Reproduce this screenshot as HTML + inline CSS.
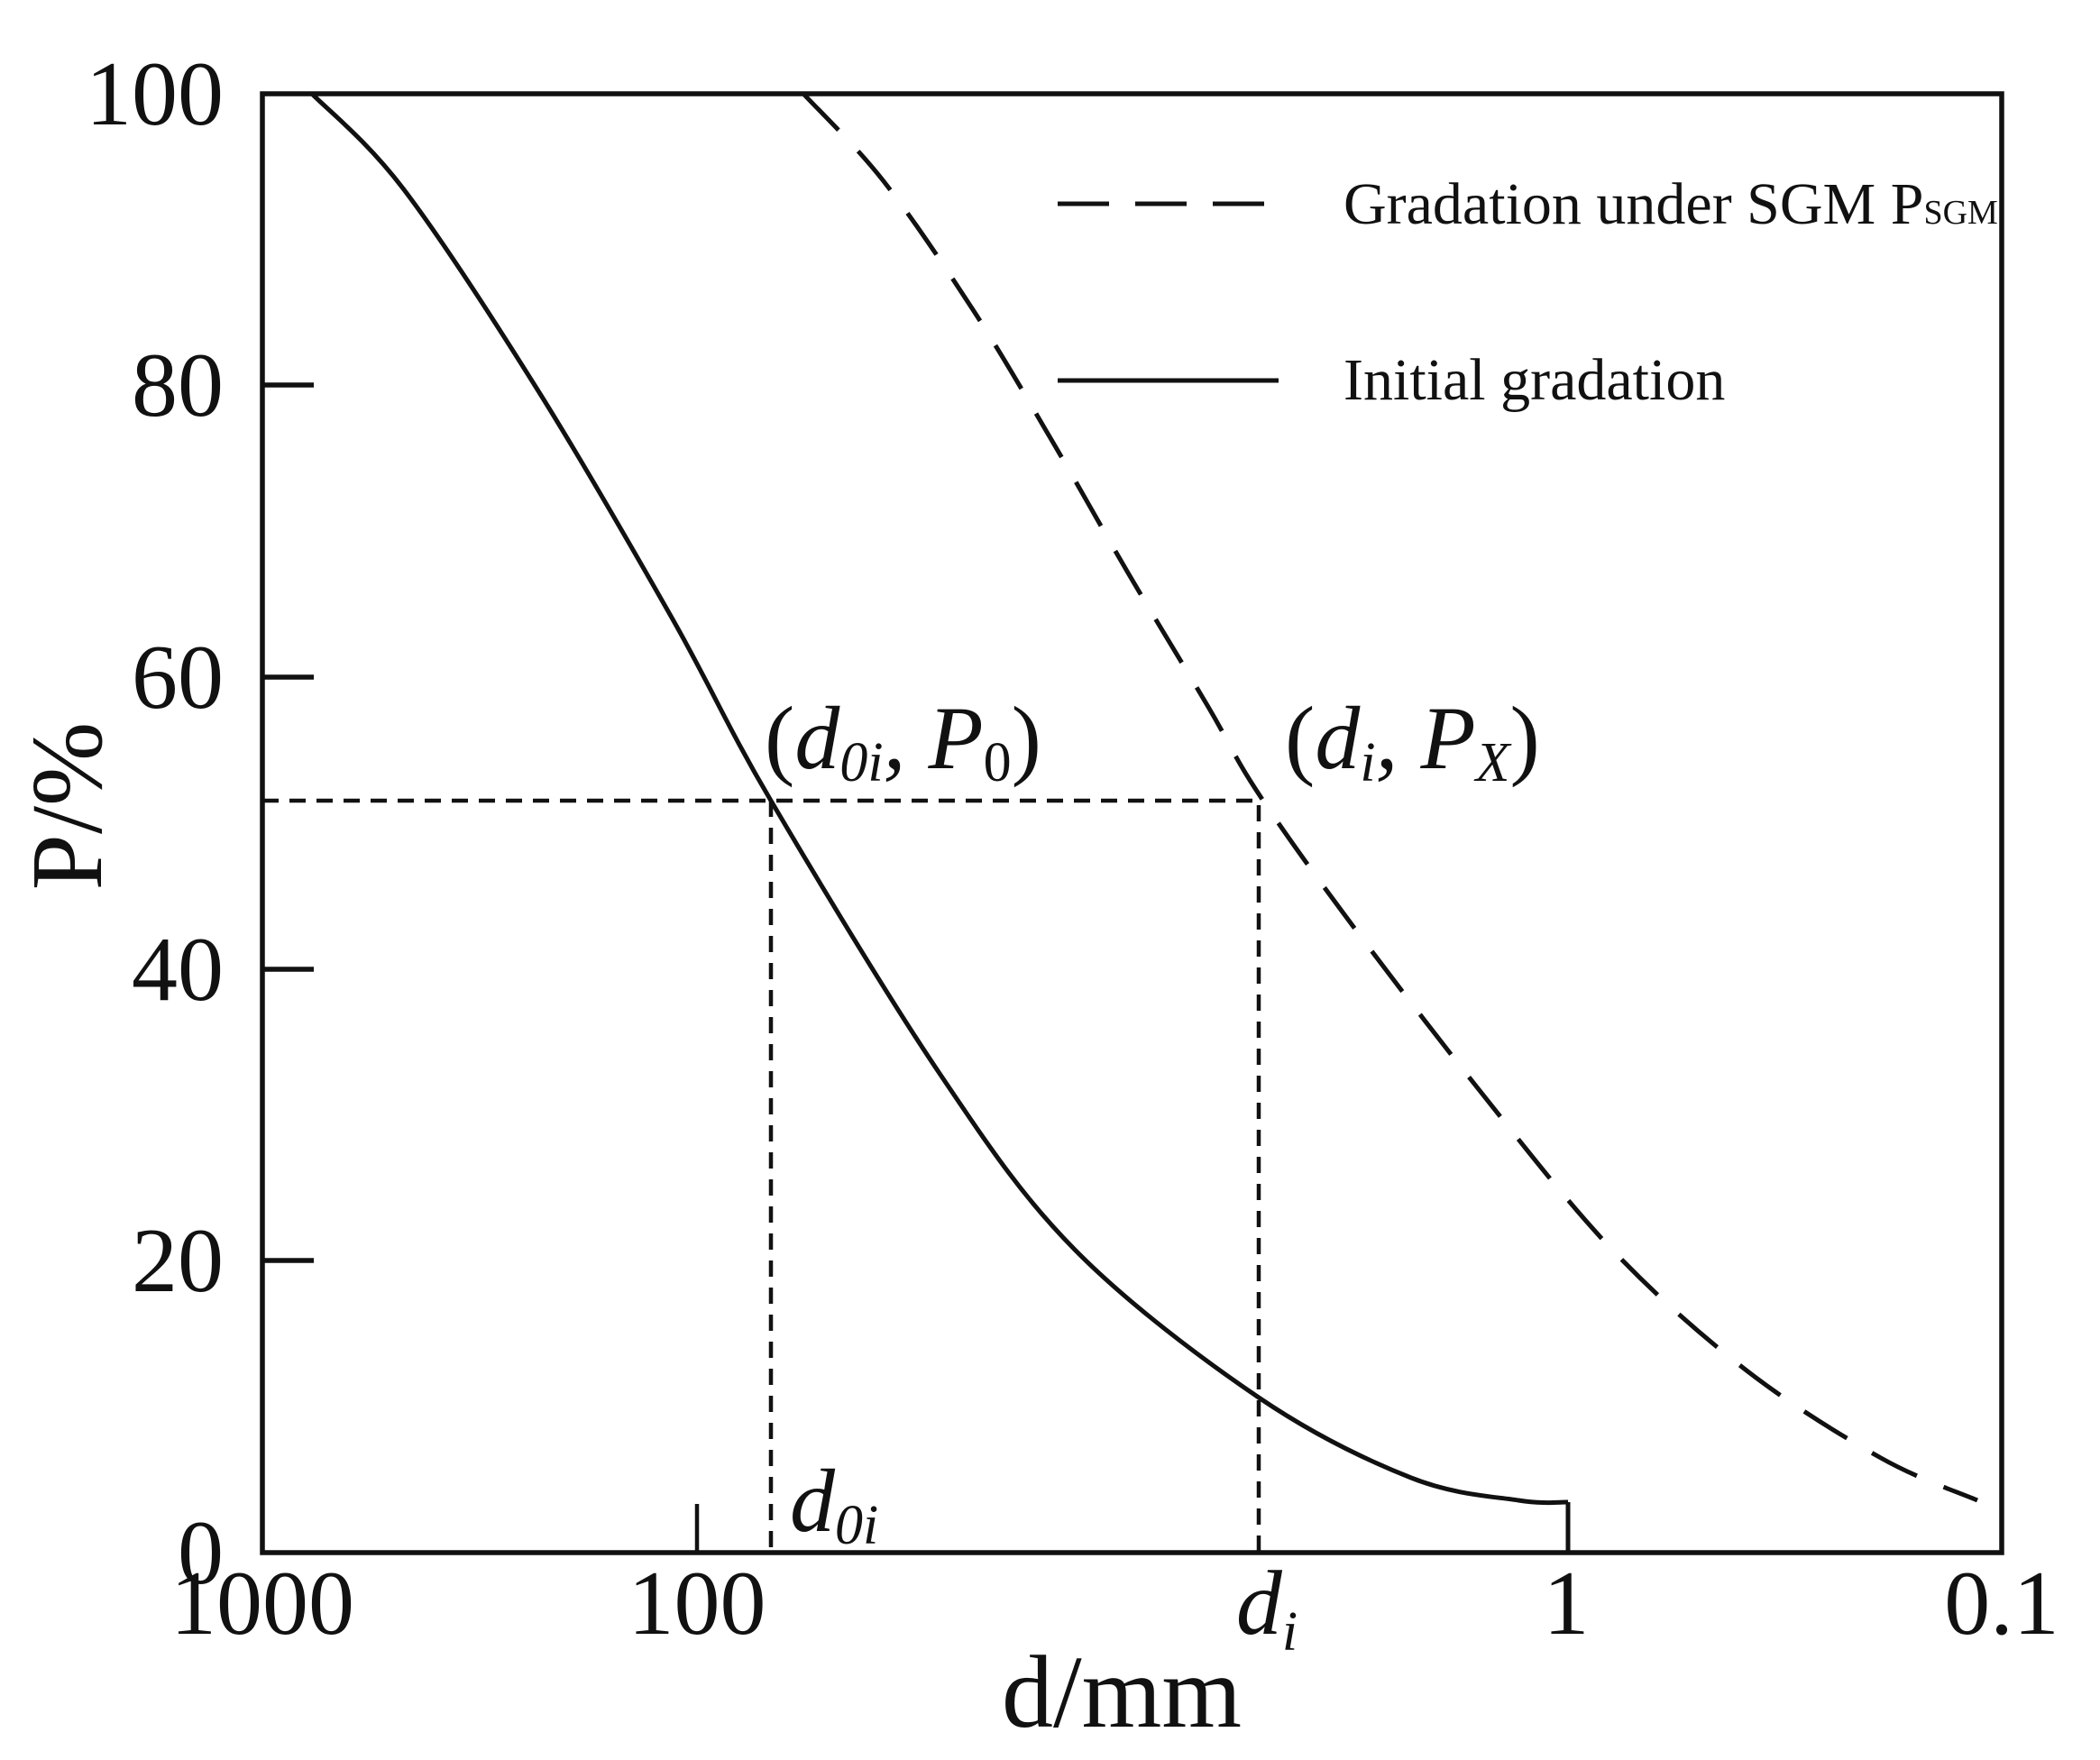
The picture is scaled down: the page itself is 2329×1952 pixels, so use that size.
<!DOCTYPE html>
<html><head><meta charset="utf-8"><style>
html,body{margin:0;padding:0;background:#fff;}
svg{display:block;}
text{font-family:"Liberation Serif",serif;fill:#111;}
</style></head><body>
<svg id="s" width="2329" height="1952" viewBox="0 0 2329 1952" xmlns="http://www.w3.org/2000/svg">
<rect x="291" y="104" width="1929" height="1618" fill="none" stroke="#111" stroke-width="5.5"/>
<g stroke="#111" stroke-width="5.5">
<line x1="291" y1="427" x2="348" y2="427"/>
<line x1="291" y1="751" x2="348" y2="751"/>
<line x1="291" y1="1075" x2="348" y2="1075"/>
<line x1="291" y1="1398" x2="348" y2="1398"/>
<line x1="773" y1="1668" x2="773" y2="1722" stroke-width="4.5"/>
</g>
<g font-size="102" text-anchor="end">
<text x="248" y="138">100</text>
<text x="248" y="461">80</text>
<text x="248" y="785">60</text>
<text x="248" y="1109">40</text>
<text x="248" y="1432">20</text>
<text x="248" y="1756">0</text>
</g>
<g font-size="102" text-anchor="middle">
<text x="291" y="1812">1000</text>
<text x="773" y="1812">100</text>
<text x="1737" y="1812">1</text>
<text x="2220" y="1812">0.1</text>
<text x="1405" y="1812" font-style="italic">d<tspan font-size="62" dy="18">i</tspan></text>
<text x="1244" y="1915" font-size="114">d/mm</text>
</g>
<text font-size="112" text-anchor="middle" transform="translate(112,894) rotate(-90)">P/%</text>
<g fill="none" stroke="#111" stroke-width="5" stroke-linejoin="round" stroke-linecap="butt">
<path id="c1"/>
<path id="c2" stroke-dasharray="56,32"/>
<polyline stroke-dasharray="18,12" stroke-width="4.5" points="291,888 1396,888 1396,1722"/>
<line stroke-dasharray="18,12" stroke-width="4.5" x1="855" y1="888" x2="855" y2="1722"/>
<line x1="1173" y1="226" x2="1402" y2="226" stroke-dasharray="57,29"/>
<line x1="1173" y1="422" x2="1418" y2="422"/>
<line x1="1739" y1="1666" x2="1739" y2="1722"/>
</g>
<g font-size="66">
<text x="1490" y="248">Gradation under SGM P<tspan font-size="38">SGM</tspan></text>
<text x="1490" y="443">Initial gradation</text>
</g>
<g font-size="100" font-style="italic">
<text x="848" y="852"><tspan font-style="normal">(</tspan>d<tspan font-size="62" dy="14">0i</tspan><tspan dy="-14">, P</tspan><tspan font-size="62" dy="14" font-style="normal">0</tspan><tspan dy="-14" font-style="normal">)</tspan></text>
<text x="1425" y="852"><tspan font-style="normal">(</tspan>d<tspan font-size="62" dy="14">i</tspan><tspan dy="-14">, P</tspan><tspan font-size="62" dy="14">X</tspan><tspan dy="-14" font-style="normal">)</tspan></text>
<text x="876" y="1698">d<tspan font-size="62" dy="14">0i</tspan></text>
</g>
</svg>
<script>
function cr(p){var d="M"+p[0][0]+","+p[0][1];for(var i=0;i<p.length-1;i++){var a=p[i-1]||p[i],b=p[i],c=p[i+1],e=p[i+2]||c;
d+=" C"+(b[0]+(c[0]-a[0])/6).toFixed(1)+","+(b[1]+(c[1]-a[1])/6).toFixed(1)+" "+(c[0]-(e[0]-b[0])/6).toFixed(1)+","+(c[1]-(e[1]-b[1])/6).toFixed(1)+" "+c[0]+","+c[1];}return d;}
document.getElementById("c1").setAttribute("d",cr([[346,104],[447,209],[596,432],[745,685],[855,888],[1043,1192],[1192,1386],[1396,1550],[1565,1639],[1684,1664],[1739,1666]]));
document.getElementById("c2").setAttribute("d",cr([[891,104],[980,201],[1080,345],[1168,491],[1252,637],[1340,784],[1393,876],[1490,1013],[1639,1207],[1788,1386],[1937,1520],[2086,1617],[2193,1664]]));
</script>
</body></html>
